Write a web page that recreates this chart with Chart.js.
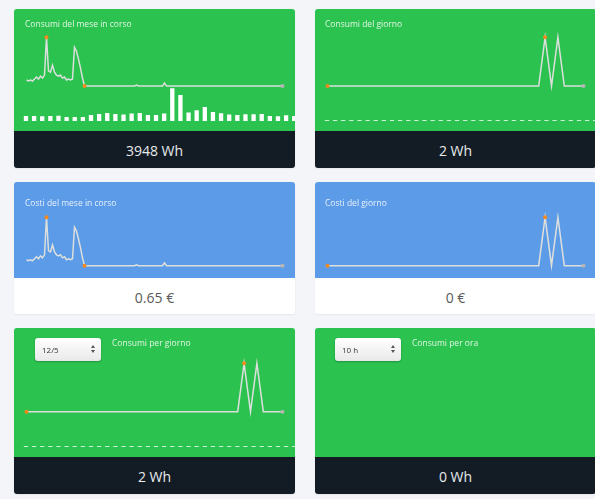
<!DOCTYPE html>
<html>
<head>
<meta charset="utf-8">
<script src="https://cdn.jsdelivr.net/npm/chart.js@4"></script>
<style>
  html,body{margin:0;padding:0;}
  body{width:595px;height:499px;background:#f3f5f9;position:relative;overflow:hidden;font-family:"Open Sans",sans-serif;}
  .card{position:absolute;border-radius:3px;overflow:hidden;box-shadow:0 1px 2px rgba(0,0,0,0.06);}
  .top{position:absolute;left:0;top:0;width:100%;}
  .green{background:#2bc24f;}
  .blue{background:#5c9be8;}
  .foot{position:absolute;left:0;width:100%;text-align:center;font-size:14px;}
  .dark{background:#131c25;color:#e8eaec;}
  .light{background:#ffffff;color:#5a5a5a;}
  .title{position:absolute;font-size:8.5px;color:rgba(255,255,255,0.85);white-space:nowrap;line-height:12px;}
  canvas{position:absolute;left:0;top:0;}
  .sel{position:absolute;width:66px;height:23px;border-radius:3px;background:linear-gradient(#ffffff,#e9e9e9);box-shadow:0 1px 2px rgba(0,0,0,0.25);font-size:8px;color:#333;line-height:23px;}
  .sel span{position:absolute;left:7px;}
  .arr{position:absolute;right:6px;width:0;height:0;border-left:2.5px solid transparent;border-right:2.5px solid transparent;}
  .up{top:7px;border-bottom:3.5px solid #555;}
  .dn{top:12px;border-top:3.5px solid #555;}
</style>
</head>
<body>
<script>
// ---- DATA ----
const monthConsumption = [6,5,6,5,7,9,7,10,8,11,49,15,14,21,14,11,10,11,8,9,6,7,6,7,39,35,27,18,8,0,
  0,0,0,0,0,0,0,0,0,0,0,0,0,0,0,0,0,0,0,0,0,0,0,0,0,1,0,0,0,0,
  0,0,0,0,0,0,0,0,0,3,0,0,0,0,0,0,0,0,0,0,0,0,0,0,0,0,0,0,0,0,
  0,0,0,0,0,0,0,0,0,0,0,0,0,0,0,0,0,0,0,0,0,0,0,0,0,0,0,0,0,0,
  0,0,0,0,0,0,0,0,0];
const monthCosts = [6,5,6,5,7,9,7,10,8,11,49,15,14,21,14,11,10,11,8,9,6,7,6,7,39,35,27,18,8,0,
  0,0,0,0,0,0,0,0,0,0,0,0,0,0,0,0,0,0,0,0,0,0,0,0,0,1,0,0,0,0,
  0,0,0,0,0,0,0,0,0,3,0,0,0,0,0,0,0,0,0,0,0,0,0,0,0,0,0,0,0,0,
  0,0,0,0,0,0,0,0,0,0,0,0,0,0,0,0,0,0,0,0,0,0,0,0,0,0,0,0,0,0,
  0,0,0,0,0,0,0,0,0];
const dayConsumption = [0,0,0,0,0,0,0,0,0,0,0,0,0,0,0,0,0,0,0,0,0,0,0,0,0,0,0,0,0,0,0,0,0,0,1,0,1,0,0,0,0];
const dayCosts       = [0,0,0,0,0,0,0,0,0,0,0,0,0,0,0,0,0,0,0,0,0,0,0,0,0,0,0,0,0,0,0,0,0,0,1,0,1,0,0,0,0];
const selectedDayConsumption = [0,0,0,0,0,0,0,0,0,0,0,0,0,0,0,0,0,0,0,0,0,0,0,0,0,0,0,0,0,0,0,0,0,0,1,0,1,0,0,0,0];
const monthDailyBars = [50,50,47,50,53,40,40,40,60,70,80,70,65,75,80,60,60,74,327,260,84,107,140,90,77,64,60,67,67,70,50,47,57,50];
const dayBars = [0,0,0,0,0,0,0,0,0,0,0,0,0,0,0,0,0,0,0,0,0,0,0,0,0,0,0,0,0,0,0,0,0,0];
const selectedDayBars = [0,0,0,0,0,0,0,0,0,0,0,0,0,0,0,0,0,0,0,0,0,0,0,0,0,0,0,0,0,0,0,0,0,0];
const titles = ["Consumi del mese in corso","Consumi del giorno","Costi del mese in corso","Costi del giorno","Consumi per giorno","Consumi per ora"];
const totals = ["3948 Wh","2 Wh","0.65 €","0 €","2 Wh","0 Wh"];
const selectors = ["12/5","10 h"];

// ---- LAYOUT ----
function card(left, top, topH, footH, topCls, footCls, title, titlePos, total){
  const c = document.createElement('div');
  c.className='card';
  c.style.left=left+'px'; c.style.top=top+'px'; c.style.width='281px'; c.style.height=(topH+footH)+'px';
  const t=document.createElement('div'); t.className='top '+topCls; t.style.height=topH+'px'; c.appendChild(t);
  const f=document.createElement('div'); f.className='foot '+footCls; f.style.top=topH+'px'; f.style.height=footH+'px'; f.style.lineHeight=(footH+3)+'px'; f.textContent=total; c.appendChild(f);
  const ti=document.createElement('div'); ti.className='title'; ti.style.left=titlePos[0]+'px'; ti.style.top=titlePos[1]+'px'; ti.textContent=title; t.appendChild(ti);
  document.body.appendChild(c);
  return t;
}
function addCanvas(parent,w,h){
  const cv=document.createElement('canvas'); cv.width=w; cv.height=h; cv.style.width=w+'px'; cv.style.height=h+'px';
  parent.insertBefore(cv,parent.firstChild); return cv;
}
function sparkLine(parent, data, h, padTop, padBottom){
  const cv=addCanvas(parent,280,h);
  const max=Math.max(...data), min=Math.min(...data);
  const iMax=data.indexOf(max), iMin=data.indexOf(min), last=data.length-1;
  new Chart(cv,{type:'line',
    data:{labels:data.map((_,i)=>i),datasets:[{data:data,borderColor:'#dcdfdc',borderWidth:1.5,tension:0,clip:false,
      pointRadius:data.map((_,i)=>(i===iMax||i===iMin||i===last)?2:0),
      pointBorderWidth:0,
      pointBackgroundColor:data.map((_,i)=>(i===last?'#b4b4b4':'#f5891f'))}]},
    options:{responsive:false,animation:false,events:[],
      layout:{padding:{left:12.5,right:11.5,top:padTop,bottom:padBottom}},
      plugins:{legend:{display:false},tooltip:{enabled:false}},
      scales:{x:{display:false,offset:false},y:{display:false,min:min,max:max}}}});
}
function bars(parent, data, h, padTop, color){
  const cv=addCanvas(parent,290,h);
  new Chart(cv,{type:'bar',
    data:{labels:data.map((_,i)=>i),datasets:[{data:data,backgroundColor:color,borderWidth:0,minBarLength:1,
      barPercentage:0.53,categoryPercentage:1}]},
    options:{responsive:false,animation:false,events:[],
      layout:{padding:{left:7.9,right:5.7,top:padTop,bottom:10}},
      plugins:{legend:{display:false},tooltip:{enabled:false}},
      scales:{x:{display:false,offset:true},y:{display:false,min:0,max:330}}}});
}
function select(parent,text,left,top){
  const s=document.createElement('div'); s.className='sel'; s.style.left=left+'px'; s.style.top=top+'px';
  s.innerHTML='<span></span><div class="arr up"></div><div class="arr dn"></div>';
  s.querySelector('span').textContent=text; parent.appendChild(s);
}

const c1=card(14,9,122,37,'green','dark',titles[0],[11,9],totals[0]);
const c2=card(315,9,122,37,'green','dark',titles[1],[10,9],totals[1]);
const c3=card(14,182,96,36,'blue','light',titles[2],[11,15],totals[2]);
const c4=card(315,182,96,36,'blue','light',titles[3],[10,15],totals[3]);
const c5=card(14,328,129,37,'green','dark',titles[4],[98,9],totals[4]);
const c6=card(315,328,129,37,'green','dark',titles[5],[97,9],totals[5]);

bars(c1,monthDailyBars,122,79,'#ffffff');
sparkLine(c1,monthConsumption,122,28.3,45);
bars(c2,dayBars,122,79,'rgba(255,255,255,0.75)');
sparkLine(c2,dayConsumption,122,28.3,45);
sparkLine(c3,monthCosts,96,35.3,12.3);
sparkLine(c4,dayCosts,96,35.3,12.3);
bars(c5,selectedDayBars,129,86,'rgba(255,255,255,0.75)');
sparkLine(c5,selectedDayConsumption,129,35.3,45.3);
select(c5,selectors[0],21,10);
select(c6,selectors[1],20,10);
</script>
</body>
</html>
